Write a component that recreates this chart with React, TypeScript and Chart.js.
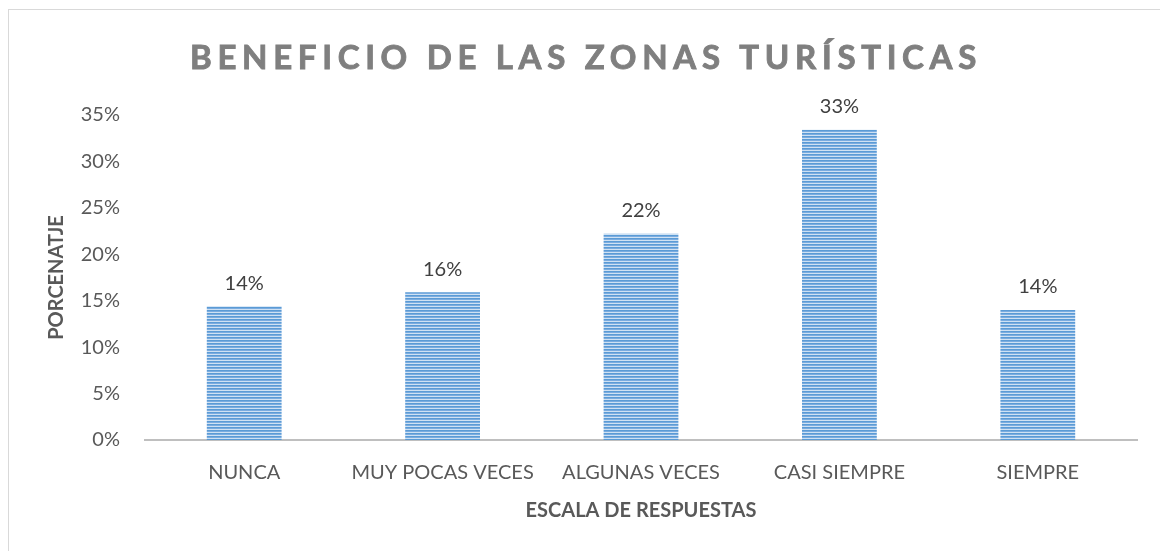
import React, { useEffect, useRef } from "react";
import { Chart, registerables } from "chart.js";

Chart.register(...registerables);

const categories = ["NUNCA", "MUY POCAS VECES", "ALGUNAS VECES", "CASI SIEMPRE", "SIEMPRE"];
const values = [0.144, 0.159, 0.222, 0.334, 0.14];
const valueLabels = ["14%", "16%", "22%", "33%", "14%"];
const titleText = "BENEFICIO DE LAS ZONAS TURÍSTICAS";
const yTitle = "PORCENATJE";
const xTitle = "ESCALA DE RESPUESTAS";

const FONT = "Lato, 'Open Sans', sans-serif";

function makePattern(): CanvasPattern | string {
  const c = document.createElement("canvas");
  c.width = 4;
  c.height = 3;
  const x = c.getContext("2d");
  if (!x) return "#5b9bd5";
  x.fillStyle = "#5b9bd5";
  x.fillRect(0, 0, 4, 1);
  x.fillStyle = "#7aace0";
  x.fillRect(0, 1, 4, 1);
  x.fillStyle = "#cfe1f3";
  x.fillRect(0, 2, 4, 1);
  const p = x.createPattern(c, "repeat");
  return p || "#5b9bd5";
}

const titlePlugin = {
  id: "spacedTitle",
  afterDraw(chart: any) {
    const ctx = chart.ctx as CanvasRenderingContext2D;
    ctx.save();
    ctx.font = `bold 33px ${FONT}`;
    ctx.fillStyle = "#7f7f7f";
    ctx.strokeStyle = "#7f7f7f";
    ctx.lineWidth = 0.9;
    ctx.textAlign = "left";
    ctx.textBaseline = "alphabetic";
    (ctx as any).letterSpacing = "0px";
    const w0 = ctx.measureText(titleText).width;
    const target = 792;
    const sp = (target - w0) / titleText.length;
    (ctx as any).letterSpacing = `${sp}px`;
    const cx = 577;
    ctx.fillText(titleText, cx - target / 2, 59);
    ctx.strokeText(titleText, cx - target / 2, 59);
    ctx.restore();
  },
};

const labelPlugin = {
  id: "valueLabels",
  afterDatasetsDraw(chart: any) {
    const ctx = chart.ctx as CanvasRenderingContext2D;
    const meta = chart.getDatasetMeta(0);
    ctx.save();
    ctx.font = `20px ${FONT}`;
    ctx.fillStyle = "#404040";
    ctx.textAlign = "center";
    ctx.textBaseline = "middle";
    meta.data.forEach((bar: any, i: number) => {
      ctx.fillText(valueLabels[i], bar.x, bar.y - 23);
    });
    ctx.restore();
  },
};

export default function App() {
  const ref = useRef<HTMLCanvasElement | null>(null);
  useEffect(() => {
    if (!ref.current) return;
    const chart = new Chart(ref.current, {
      type: "bar",
      data: {
        labels: categories,
        datasets: [
          {
            data: values,
            backgroundColor: makePattern() as any,
            borderWidth: 0,
            categoryPercentage: 1,
            barPercentage: 0.377,
          },
        ],
      },
      options: {
        responsive: false,
        animation: false,
        layout: { padding: { top: 105, right: 23, left: 0, bottom: 0 } },
        plugins: {
          legend: { display: false },
          title: { display: false },
          tooltip: { enabled: false },
        },
        scales: {
          y: {
            min: 0,
            max: 0.35,
            ticks: {
              stepSize: 0.05,
              padding: 25,
              color: "#595959",
              font: { family: FONT, size: 20 },
              callback: (v: any) => `${Math.round(Number(v) * 100)}%`,
            },
            grid: { display: false, drawTicks: false },
            border: { display: false },
            title: {
              display: true,
              text: yTitle,
              color: "#595959",
              font: { family: FONT, size: 20, weight: "bold" },
              padding: { top: 36, bottom: 0 },
            },
            afterFit: (s: any) => {
              s.width = 136;
            },
          },
          x: {
            ticks: {
              padding: 21,
              color: "#595959",
              font: { family: FONT, size: 20 },
              maxRotation: 0,
              autoSkip: false,
            },
            grid: { display: false, drawTicks: false },
            border: { display: true, color: "#bfbfbf", width: 2 },
            title: {
              display: true,
              text: xTitle,
              color: "#595959",
              font: { family: FONT, size: 20, weight: "bold" },
              padding: { top: 0, bottom: 28 },
            },
            afterFit: (s: any) => {
              s.height = 111;
            },
          },
        },
      },
      plugins: [titlePlugin, labelPlugin],
    });
    return () => chart.destroy();
  }, []);

  return (
    <div
      style={{
        position: "fixed",
        left: 8,
        top: 9,
        width: 1160,
        height: 560,
        borderTop: "1px solid #d9d9d9",
        borderLeft: "1px solid #d9d9d9",
        background: "#fff",
      }}
    >
      <canvas ref={ref} width={1151} height={541} style={{ display: "block" }} />
    </div>
  );
}
